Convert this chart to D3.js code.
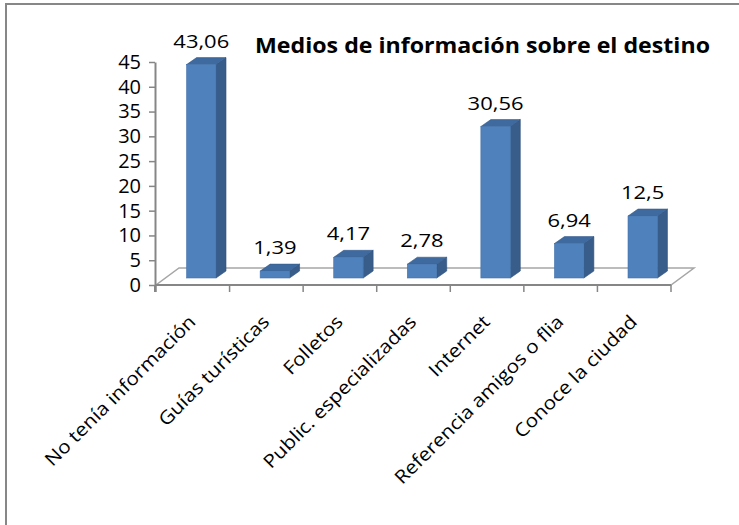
<!DOCTYPE html>
<html>
<head>
<meta charset="utf-8">
<script src="https://cdn.jsdelivr.net/npm/d3@7"></script>
<style>
  body { margin: 0; background: #fff; }
  text { font-family: "Open Sans", sans-serif; fill: #000; }
</style>
</head>
<body>
<div id="chart"></div>
<script>
// data
var categories = ["No tenía información", "Guías turísticas", "Folletos", "Public. especializadas",
    "Internet", "Referencia amigos o flia", "Conoce la ciudad"];
var values = [43.06, 1.39, 4.17, 2.78, 30.56, 6.94, 12.5];
var valueLabels = ["43,06", "1,39", "4,17", "2,78", "30,56", "6,94", "12,5"];
var yTicks = [0, 5, 10, 15, 20, 25, 30, 35, 40, 45];
var title = "Medios de información sobre el destino";

var svgWidth = 739;
var svgHeight = 525;

var svg = d3.select("#chart")
    .append("svg")
    .attr("width", svgWidth)
    .attr("height", svgHeight);

// widen text a bit, the original font runs wider than ours
function stretch(sel, k) {
    sel.each(function () {
        var w = this.getComputedTextLength();
        d3.select(this)
            .attr("textLength", w * k)
            .attr("lengthAdjust", "spacingAndGlyphs");
    });
}

// chart frame (only top and left edges are visible)
svg.append("path")
    .attr("d", "M6,525 L6,4 L739,4")
    .attr("fill", "none")
    .attr("stroke", "#878787")
    .attr("stroke-width", 2);

// scales
var xScale = d3.scaleBand()
    .domain(categories)
    .range([156, 671])
    .padding(0);

var yScale = d3.scaleLinear()
    .domain([0, 45])
    .range([285, 62]);

// 3d offsets
var floorDepth = { dx: 23, dy: -17 };
var barFront = { dx: 8.5, dy: -7 };
var barDepth = { dx: 10, dy: -7 };

// floor
var fx0 = xScale.range()[0], fx1 = xScale.range()[1], fy = yScale(0);
svg.append("polygon")
    .attr("points", [
        [fx0, fy], [fx1, fy],
        [fx1 + floorDepth.dx, fy + floorDepth.dy],
        [fx0 + floorDepth.dx, fy + floorDepth.dy]
    ].map(p => p.join(",")).join(" "))
    .attr("fill", "#fff")
    .attr("stroke", "#a6a6a6")
    .attr("stroke-width", 1.5);

// y axis
var leftAxis = d3.axisLeft(yScale)
    .tickValues(yTicks)
    .tickSize(6)
    .tickSizeOuter(0)
    .tickPadding(8)
    .tickFormat(d3.format("d"));

var yAxisG = svg.append("g")
    .attr("transform", "translate(155,0)")
    .call(leftAxis);
yAxisG.select(".domain").attr("stroke", "#868686").attr("stroke-width", 2);
yAxisG.selectAll(".tick line").attr("stroke", "#868686").attr("stroke-width", 1.5);
yAxisG.selectAll(".tick text")
    .attr("font-size", 20)
    .attr("font-family", "Open Sans, sans-serif")
    .attr("fill", "#000");

// vertical axis runs a little below the floor
svg.append("line")
    .attr("x1", 155).attr("x2", 155)
    .attr("y1", fy).attr("y2", fy + 7)
    .attr("stroke", "#868686")
    .attr("stroke-width", 2);

// category axis: front edge of the floor with ticks at band boundaries
svg.append("line")
    .attr("x1", 155).attr("x2", fx1)
    .attr("y1", fy).attr("y2", fy)
    .attr("stroke", "#868686")
    .attr("stroke-width", 2);

var bounds = categories.map(c => xScale(c)).concat([fx1]);
svg.selectAll(".xtick")
    .data(bounds)
    .enter()
    .append("line")
    .attr("class", "xtick")
    .attr("x1", d => d).attr("x2", d => d)
    .attr("y1", fy).attr("y2", fy + 7)
    .attr("stroke", "#868686")
    .attr("stroke-width", 1.5);

// bars
var barW = xScale.bandwidth() * 0.4;
var bars = svg.selectAll(".bar")
    .data(values)
    .enter()
    .append("g")
    .attr("class", "bar");

function frontX(i) {
    return xScale(categories[i]) + (xScale.bandwidth() - barW) / 2 + barFront.dx;
}

bars.each(function (v, i) {
    var g = d3.select(this);
    var x0 = frontX(i), x1 = x0 + barW;
    var top = yScale(v) + barFront.dy, bottom = yScale(0) + barFront.dy;
    var dx = barDepth.dx, dy = barDepth.dy;

    g.append("polygon")
        .attr("points", [[x1, top], [x1 + dx, top + dy], [x1 + dx, bottom + dy], [x1, bottom]]
            .map(p => p.join(",")).join(" "))
        .attr("fill", "#385d8a")
        .attr("stroke", "#2f4f77")
        .attr("stroke-width", 0.6);

    g.append("polygon")
        .attr("points", [[x0, top], [x0 + dx, top + dy], [x1 + dx, top + dy], [x1, top]]
            .map(p => p.join(",")).join(" "))
        .attr("fill", "#3f6aa0")
        .attr("stroke", "#345a8a")
        .attr("stroke-width", 0.6);

    g.append("rect")
        .attr("x", x0)
        .attr("y", top)
        .attr("width", barW)
        .attr("height", bottom - top)
        .attr("fill", "#4f81bd")
        .attr("stroke", "#4474ad")
        .attr("stroke-width", 0.6);
});

// value labels
var vlabels = svg.selectAll(".vlabel")
    .data(values)
    .enter()
    .append("text")
    .attr("class", "vlabel")
    .attr("x", (d, i) => frontX(i) + barW / 2)
    .attr("y", d => yScale(d) - 24)
    .attr("text-anchor", "middle")
    .attr("font-size", 18)
    .text((d, i) => valueLabels[i]);
stretch(vlabels, 1.22);

// category labels rotated -45
var xlabels = svg.selectAll(".xlabel")
    .data(categories)
    .enter()
    .append("text")
    .attr("class", "xlabel")
    .attr("text-anchor", "end")
    .attr("font-size", 18.5)
    .attr("transform", d => `translate(${xScale(d) + xScale.bandwidth() / 2 + 4},323) rotate(-45)`)
    .text(d => d);
stretch(xlabels, 1.12);

// title
svg.append("text")
    .attr("x", 255)
    .attr("y", 53)
    .attr("font-size", 21)
    .attr("font-weight", "bold")
    .attr("textLength", 455)
    .attr("lengthAdjust", "spacingAndGlyphs")
    .text(title);
</script>
</body>
</html>
